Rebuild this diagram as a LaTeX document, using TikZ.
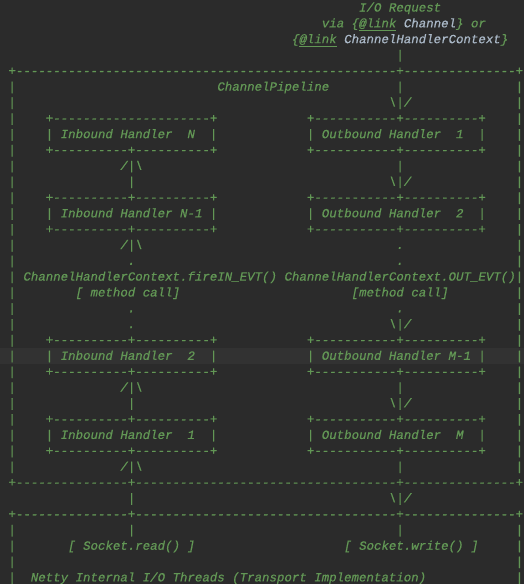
\documentclass[tikz,border=0pt]{standalone}
\usepackage{fontspec}
\setmonofont{Liberation Mono}[ItalicFeatures={FakeBold=0.6}]
\usepackage{xcolor}
\usepackage{tikz}
\definecolor{bgdark}{HTML}{2B2B2B}
\definecolor{bgline}{HTML}{323232}
\definecolor{docgreen}{HTML}{629755}
\definecolor{docref}{HTML}{A9B7C6}
\tikzstyle{ch} = [inner sep=0pt, anchor=base west, text=docgreen, font=\fontsize{12.43}{15.83}\selectfont\ttfamily\itshape]
\newcommand{\dashes}[1]{\foreach \k in {1,...,#1}{-}}
\newcommand{\upar}{/|\textbackslash}
\newcommand{\downar}{\textbackslash|/}
\newcommand{\ibox}{+\dashes{10}+\dashes{10}+}
\newcommand{\obox}{+\dashes{11}+\dashes{10}+}
\newcommand{\frameline}{+\dashes{15}+\dashes{35}+\dashes{15}+}

\begin{document}
\begin{tikzpicture}[x=7.46pt, y=-15.83pt]
   \fill[bgdark] (0pt,0pt) rectangle (524pt,-584pt);
   \fill[bgline] (0pt,-347.9pt) rectangle (524pt,-363.7pt);
   \useasboundingbox (0pt,0pt) rectangle (524pt,-584pt);
   \begin{scope}[shift={(8.27pt,4.33pt)}]
   \node[ch] (req) at (47,1) {I/O Request};
   \node[ch] (via) at (42,2) {via \{\underline{@link} \textcolor{docref}{Channel}\} or};
   \node[ch] (ctx) at (38,3) {\{\underline{@link} \textcolor{docref}{ChannelHandlerContext}\}};
   \node[ch] (top) at (0,5) {+\dashes{51}+\dashes{15}+};
   \node[ch] (pipe) at (28,6) {ChannelPipeline};
   \foreach \r in {6,...,30,34,35,36,37} {
      \node[ch] (l\r) at (0,\r) {|};
      \node[ch] (r\r) at (68,\r) {|};
   }
   \node[ch] (intop8) at (5,8) {+\dashes{21}+};
   \foreach \r in {13,22,27}
      \node[ch] (intop\r) at (5,\r) {\ibox};
   \foreach \r/\il/\ol in {9/{|~Inbound~Handler~~N~~|}/{|~Outbound~Handler~~1~~|},
                           14/{|~Inbound~Handler~N-1~|}/{|~Outbound~Handler~~2~~|},
                           23/{|~Inbound~Handler~~2~~|}/{|~Outbound~Handler~M-1~|},
                           28/{|~Inbound~Handler~~1~~|}/{|~Outbound~Handler~~M~~|}} {
      \node[ch] (in\r) at (5,\r) {\il};
      \node[ch] (inbot\r) at (5,\r+1) {\ibox};
      \node[ch] (outtop\r) at (40,\r-1) {\obox};
      \node[ch] (out\r) at (40,\r) {\ol};
      \node[ch] (outbot\r) at (40,\r+1) {\obox};
   }
   \foreach \r/\c/\t in {11/15/\upar, 12/16/|, 16/15/\upar, 17/16/., 20/16/., 21/16/.,
                         25/15/\upar, 26/16/|, 30/15/\upar, 32/16/|, 34/16/|,
                         4/52/|, 6/52/|, 7/51/\downar, 11/52/|, 12/51/\downar, 16/52/., 17/52/.,
                         20/52/., 21/51/\downar, 25/52/|, 26/51/\downar, 30/52/|, 32/51/\downar, 34/52/|}
      \node[ch] (a\r-\c) at (\c,\r) {\t};
   \node[ch] (fire) at (2,18) {ChannelHandlerContext.fireIN\_EVT()};
   \node[ch] (outevt) at (37,18) {ChannelHandlerContext.OUT\_EVT()};
   \node[ch] (incall) at (9,19) {[~method~call]};
   \node[ch] (outcall) at (46,19) {[method~call]};
   \node[ch] (mid) at (0,31) {\frameline};
   \node[ch] (low) at (0,33) {\frameline};
   \node[ch] (read) at (8,35) {[~Socket.read()~]};
   \node[ch] (write) at (45,35) {[~Socket.write()~]};
   \node[ch] (netty) at (3,37) {Netty Internal I/O Threads (Transport Implementation)};
   \end{scope}
\end{tikzpicture}
\end{document}
